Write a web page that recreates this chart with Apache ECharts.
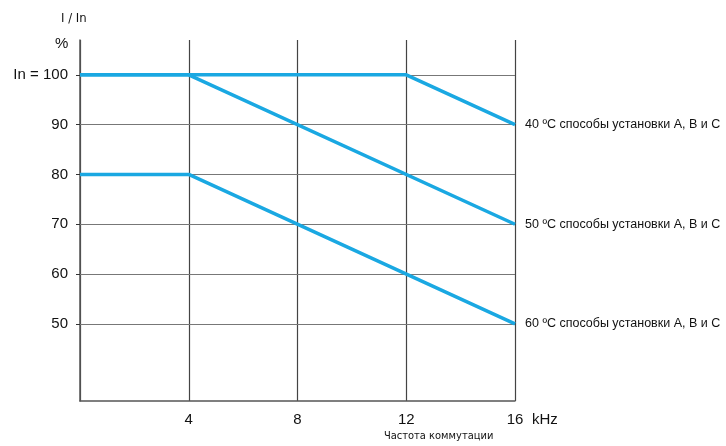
<!DOCTYPE html>
<html>
<head>
<meta charset="utf-8">
<script src="https://cdn.jsdelivr.net/npm/echarts@6/dist/echarts.min.js"></script>
<style>html,body{margin:0;padding:0;background:#fff}#c{width:726px;height:446px}</style>
</head>
<body>
<div id="c"></div>
<script>
var xTicks = [4, 8, 12, 16];
var yTicks = [50, 60, 70, 80, 90, 100];
var seriesNames = ['40 ºC способы установки А, В и С', '50 ºC способы установки А, В и С', '60 ºC способы установки А, В и С'];
var s40 = [[0, 100], [12, 100], [16, 90]];
var s50 = [[0, 100], [4, 100], [16, 70]];
var s60 = [[0, 80], [4, 80], [16, 50]];

var narrow = 'DejaVu Sans Condensed';
var sans = 'Liberation Sans';
var blue = '#1aa8e2';

function mk(name, data, withGrid) {
  var s = {
    name: name, type: 'line', data: data, symbol: 'none', silent: true,
    lineStyle: { color: blue, width: 3.5 },
    endLabel: { show: true, formatter: name, color: '#111', fontFamily: sans, fontSize: 12.5, distance: 10 },
    z: 5
  };
  if (withGrid) {
    s.markLine = {
      silent: true, symbol: 'none', label: { show: false },
      lineStyle: { color: '#777', width: 1, type: 'solid' },
      data: yTicks.map(function (v) { return { yAxis: v }; }),
      z: 1
    };
  }
  return s;
}

var chart = echarts.init(document.getElementById('c'));
chart.setOption({
  animation: false,
  textStyle: { fontFamily: sans },
  grid: { left: 80, right: 211, top: 40, bottom: 45, containLabel: false },
  xAxis: {
    type: 'value', min: 0, max: 16, interval: 4,
    axisLine: { show: true, lineStyle: { color: '#555', width: 1.5 } },
    axisTick: { show: false },
    splitLine: { show: true, lineStyle: { color: '#444', width: 1.2 } },
    axisLabel: {
      color: '#111', fontFamily: sans, fontSize: 15, margin: 11,
      formatter: function (v) { return xTicks.indexOf(v) >= 0 ? String(v) : ''; }
    }
  },
  yAxis: {
    type: 'value', min: 34.5, max: 107,
    axisLine: { show: true, lineStyle: { color: '#555', width: 1.5 } },
    axisTick: { show: true, customValues: yTicks, length: 4, lineStyle: { color: '#333' } },
    splitLine: { show: false },
    axisLabel: {
      customValues: yTicks, color: '#111', fontFamily: sans, fontSize: 15, margin: 12,
      formatter: function (v) { return v === 100 ? 'In = 100' : String(v); }
    }
  },
  graphic: [
    { type: 'text', left: 61, top: 12, style: { text: 'I / In', fontFamily: narrow, fontSize: 13, fill: '#111' } },
    { type: 'text', left: 55, top: 36, style: { text: '%', fontFamily: sans, fontSize: 15, fill: '#111' } },
    { type: 'text', left: 532, top: 412, style: { text: 'kHz', fontFamily: sans, fontSize: 15, fill: '#111' } },
    { type: 'text', left: 384, top: 431, style: { text: 'Частота коммутации', fontFamily: narrow, fontSize: 11, fill: '#111' } }
  ],
  series: [mk(seriesNames[0], s40, true), mk(seriesNames[1], s50, false), mk(seriesNames[2], s60, false)]
});
</script>
</body>
</html>
